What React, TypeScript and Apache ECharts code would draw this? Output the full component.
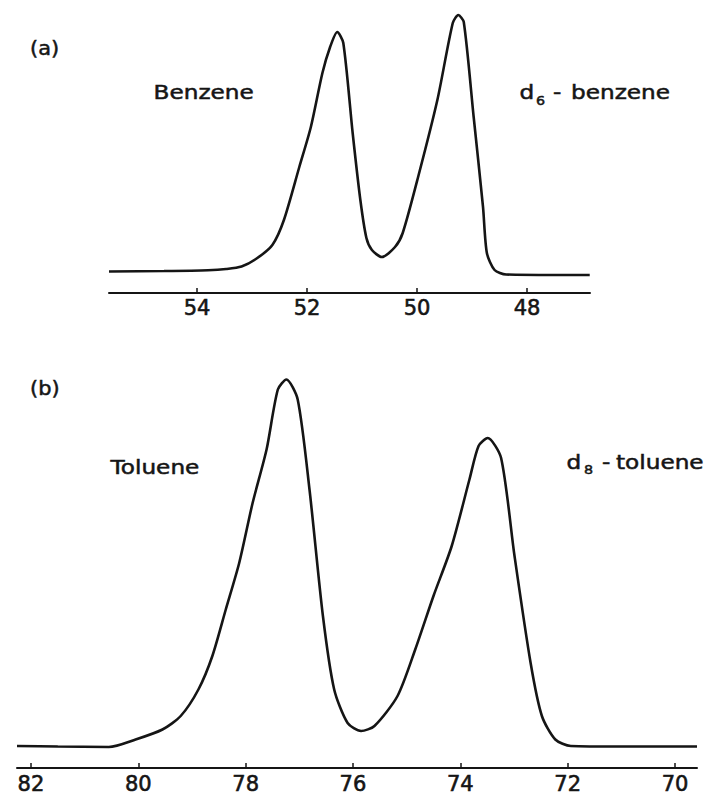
import { useEffect, useRef } from "react";
import * as echarts from "echarts";

// Panel (a): benzene / d6-benzene — chemical shift axis and detector signal
const benzeneShift = [55.6, 54.6, 53.8, 53.47, 53.19, 52.91, 52.63, 52.42, 52.14, 51.93, 51.72, 51.58, 51.45, 51.34, 51.17, 51.03, 50.92, 50.82, 50.64, 50.4, 50.26, 49.98, 49.63, 49.35, 49.25, 49.15, 48.97, 48.8, 48.73, 48.59, 48.38, 47.5, 46.86];
const benzeneSignal = [3.5, 4, 4.8, 6, 8.5, 16.7, 30, 55, 108, 148, 202, 228, 243, 232, 142, 75, 37, 25, 18, 28, 42, 98, 175, 252, 260, 253, 158, 68, 22, 5, 0.5, 0, 0];
const benzeneTicks = [54, 52, 50, 48];

// Panel (b): toluene / d8-toluene
const tolueneShift = [82.26, 81.5, 80.55, 80.05, 79.55, 79.21, 78.88, 78.62, 78.37, 78.12, 77.87, 77.61, 77.4, 77.24, 77.03, 76.81, 76.56, 76.35, 76.1, 75.85, 75.6, 75.17, 74.84, 74.5, 74.16, 73.83, 73.66, 73.49, 73.24, 72.99, 72.69, 72.48, 72.23, 71.94, 71.0, 69.59];
const tolueneSignal = [2, 1.5, 1, 8.5, 18.5, 32, 58.5, 92, 138.5, 185, 245, 298.5, 358.5, 368.5, 348.5, 258.5, 132, 58.5, 25, 17, 22, 52, 98.5, 152, 202, 268.5, 302, 310, 290, 192, 85, 32, 8.5, 2, 1.5, 1.5];
const tolueneTicks = [82, 80, 78, 76, 74, 72, 70];

const panelLabels = ["(a)", "(b)"];
const compoundLabels = ["Benzene", "Toluene"];

export default function App() {
  const ref = useRef<HTMLDivElement>(null);

  useEffect(() => {
    const chart = echarts.init(ref.current!, null, { renderer: "svg" });
    const ink = "#151515";
    const font = "DejaVu Sans";

    const xAxisFor = (gridIndex: number, min: number, max: number, ticks: number[], margin: number) => ({
      type: "value",
      gridIndex,
      min,
      max,
      inverse: true,
      position: "bottom",
      axisLine: { show: true, onZero: false, lineStyle: { color: ink, width: 2 } },
      axisTick: { show: true, inside: true, length: 5, customValues: ticks, lineStyle: { color: ink, width: 1.5 } },
      axisLabel: {
        show: true,
        customValues: ticks,
        color: ink,
        fontSize: 21,
        fontFamily: font,
        margin,
        textBorderColor: ink,
        textBorderWidth: 0.6,
      },
      splitLine: { show: false },
    });

    const txt = (text: string, x: number, y: number, size = 19, sx = 1.22) => ({
      type: "text",
      x,
      y,
      scaleX: sx,
      style: {
        text,
        fontSize: size,
        fontFamily: font,
        fill: ink,
        stroke: ink,
        lineWidth: 0.5,
        align: "left",
        verticalAlign: "middle",
      },
    });

    chart.setOption({
      animation: false,
      backgroundColor: "#ffffff",
      grid: [
        { left: 109, width: 481, top: 10, height: 283 },
        { left: 17, width: 680, top: 370, height: 398 },
      ],
      xAxis: [
        xAxisFor(0, 46.855, 55.6, benzeneTicks, 4),
        xAxisFor(1, 69.59, 82.26, tolueneTicks, 5),
      ],
      yAxis: [
        { type: "value", gridIndex: 0, min: -18, max: 265, show: false, splitLine: { show: false } },
        { type: "value", gridIndex: 1, min: -20, max: 378, show: false, splitLine: { show: false } },
      ],
      series: [
        {
          type: "line",
          xAxisIndex: 0,
          yAxisIndex: 0,
          data: benzeneShift.map((v, i) => [v, benzeneSignal[i]]),
          showSymbol: false,
          smooth: 0.25,
          lineStyle: { color: ink, width: 2.6 },
        },
        {
          type: "line",
          xAxisIndex: 1,
          yAxisIndex: 1,
          data: tolueneShift.map((v, i) => [v, tolueneSignal[i]]),
          showSymbol: false,
          smooth: 0.25,
          lineStyle: { color: ink, width: 2.6 },
        },
      ],
      graphic: [
        txt(panelLabels[0], 30, 48, 19, 1.1),
        txt(compoundLabels[0], 153.6, 92),
        txt("d", 519.5, 92),
        txt("6", 536, 100, 13, 1.1),
        txt("-", 553, 92),
        txt("benzene", 571, 92),
        txt(panelLabels[1], 30, 388, 19, 1.1),
        txt(compoundLabels[1], 110.6, 467),
        txt("d", 566.6, 462),
        txt("8", 584, 469, 13, 1.1),
        txt("-", 602, 462),
        txt("toluene", 616, 462),
      ],
    });

    return () => chart.dispose();
  }, []);

  return (
    <div
      ref={ref}
      style={{ position: "fixed", left: 0, top: 0, width: 708, height: 795, background: "#fff" }}
    />
  );
}
